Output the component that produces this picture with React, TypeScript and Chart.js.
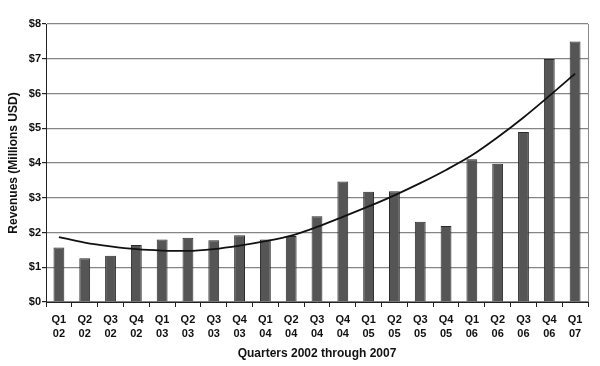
import React, { useEffect, useRef } from "react";
import { Chart, registerables } from "chart.js";

Chart.register(...registerables);

const quarters: string[][] = [
  ["Q1", "02"], ["Q2", "02"], ["Q3", "02"], ["Q4", "02"],
  ["Q1", "03"], ["Q2", "03"], ["Q3", "03"], ["Q4", "03"],
  ["Q1", "04"], ["Q2", "04"], ["Q3", "04"], ["Q4", "04"],
  ["Q1", "05"], ["Q2", "05"], ["Q3", "05"], ["Q4", "05"],
  ["Q1", "06"], ["Q2", "06"], ["Q3", "06"], ["Q4", "06"],
  ["Q1", "07"],
];

const revenues: number[] = [
  1.57, 1.26, 1.33, 1.64, 1.80, 1.85, 1.78, 1.92, 1.80, 1.90,
  2.47, 3.47, 3.17, 3.19, 2.31, 2.19, 4.11, 3.98, 4.89, 6.99, 7.50,
];

const trend: number[] = [
  1.87, 1.71, 1.60, 1.52, 1.48, 1.47, 1.52, 1.62, 1.75, 1.91,
  2.16, 2.45, 2.75, 3.07, 3.42, 3.80, 4.22, 4.74, 5.31, 5.93, 6.57,
];

const yTickLabels: string[] = ["$0", "$1", "$2", "$3", "$4", "$5", "$6", "$7", "$8"];

const FONT = "'Liberation Sans', Arial, Helvetica, sans-serif";

const rightBorder = {
  id: "rightBorder",
  beforeDatasetsDraw(chart: any) {
    const { ctx, chartArea } = chart;
    ctx.save();
    ctx.strokeStyle = "#8a8a8a";
    ctx.lineWidth = 1;
    ctx.beginPath();
    ctx.moveTo(Math.round(chartArea.right) + 0.5, chartArea.top);
    ctx.lineTo(Math.round(chartArea.right) + 0.5, chartArea.bottom);
    ctx.stroke();
    ctx.restore();
  },
};

export default function App() {
  const ref = useRef<HTMLCanvasElement | null>(null);

  useEffect(() => {
    if (!ref.current) return;
    const chart = new Chart(ref.current, {
      type: "bar",
      data: {
        labels: quarters,
        datasets: [
          {
            type: "line",
            data: trend,
            borderColor: "#111111",
            borderWidth: 1.8,
            pointRadius: 0,
            fill: false,
            tension: 0.4,
            cubicInterpolationMode: "monotone",
            order: 0,
          } as any,
          {
            type: "bar",
            data: revenues,
            backgroundColor: "#555555",
            borderColor: "#2a2a2a",
            borderWidth: 1,
            barPercentage: 0.42,
            categoryPercentage: 1,
            order: 1,
          },
        ],
      },
      options: {
        responsive: false,
        animation: false,
        layout: { padding: { top: 24, right: 12, left: 0, bottom: 0 } },
        plugins: {
          legend: { display: false },
          tooltip: { enabled: false },
        },
        scales: {
          x: {
            offset: true,
            grid: {
              offset: true,
              drawOnChartArea: false,
              drawTicks: true,
              tickLength: 5,
              tickColor: "#222222",
            },
            border: { color: "#222222", width: 1 },
            ticks: {
              color: "#111111",
              font: { family: FONT, size: 11, weight: "bold", lineHeight: 1.3 },
              padding: 6,
              maxRotation: 0,
              autoSkip: false,
            },
            title: {
              display: true,
              text: "Quarters 2002 through 2007",
              color: "#111111",
              font: { family: FONT, size: 12, weight: "bold" },
              padding: { top: 0, bottom: 5 },
            },
            afterFit(scale: any) {
              scale.height = 64;
            },
          },
          y: {
            min: 0,
            max: 8,
            grid: {
              color: "#858585",
              lineWidth: 1.2,
              tickLength: 4,
              tickColor: "#222222",
            },
            border: { color: "#222222", width: 1 },
            ticks: {
              stepSize: 1,
              color: "#111111",
              padding: 1,
              font: { family: FONT, size: 11, weight: "bold" },
              callback: (_v: any, i: number) => yTickLabels[i],
            },
            title: {
              display: true,
              text: "Revenues (Millions USD)",
              color: "#111111",
              font: { family: FONT, size: 12, weight: "bold" },
              padding: { top: 6, bottom: 0 },
            },
            afterFit(scale: any) {
              scale.width = 46;
            },
          },
        },
      },
      plugins: [rightBorder],
    });
    return () => chart.destroy();
  }, []);

  return (
    <div style={{ position: "absolute", left: 0, top: 0, width: 600, height: 366, background: "#fff" }}>
      <canvas ref={ref} width={600} height={366} />
    </div>
  );
}
